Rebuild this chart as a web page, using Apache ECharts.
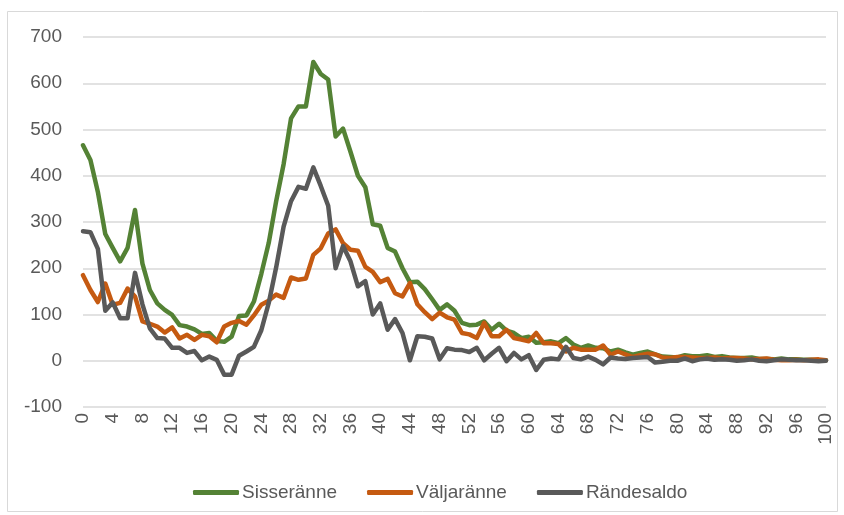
<!DOCTYPE html>
<html>
<head>
<meta charset="utf-8">
<script src="https://cdn.jsdelivr.net/npm/echarts@6/dist/echarts.min.js"></script>
<style>
html,body{margin:0;padding:0;background:#fff;}
#c{width:844px;height:515px;}
</style>
</head>
<body>
<div id="c"></div>
<script>
const ages = Array.from({length: 101}, (_, i) => String(i));
const seriesNames = ["Sisseränne", "Väljaränne", "Rändesaldo"];
const sisseranne = [466,434,365,274,244,215,244,326,210,153,124,110,99,77,74,68,58,60,43,41,52,97,98,128,188,255,345,425,524,550,550,646,620,608,485,502,452,400,375,295,292,244,236,200,170,171,155,133,110,122,108,82,77,78,85,67,80,65,60,49,52,39,40,42,38,49,35,28,33,28,27,20,24,18,13,17,20,14,9,8,7,12,10,10,12,8,10,7,6,6,7,4,4,3,5,3,3,2,2,1,1];
const valjaranne = [185,153,127,167,121,125,156,139,85,80,74,61,72,48,56,45,56,53,40,74,82,86,78,98,121,130,143,136,180,175,178,229,243,275,284,254,240,238,203,192,170,177,146,139,168,122,105,90,104,94,89,60,57,49,82,53,53,67,49,46,42,60,38,38,36,20,28,24,24,24,33,13,20,14,8,12,15,14,7,6,8,8,7,6,6,7,5,6,6,5,3,4,5,2,1,1,2,1,2,3,1];
const randesaldo = [280,278,242,108,126,92,92,190,122,70,49,48,28,28,17,21,1,9,2,-30,-30,11,20,30,66,125,202,290,345,376,372,418,378,335,200,248,215,161,172,100,124,67,90,60,1,53,52,48,3,27,24,23,19,28,1,15,28,-1,17,3,12,-20,2,5,3,30,6,3,9,2,-8,7,5,4,6,7,8,-4,-2,0,0,5,-1,3,5,2,3,2,0,1,3,0,-1,1,3,2,1,1,0,-1,0];
const yMin = -100, yMax = 700, yStep = 100;
const colors = ["#548235", "#C55A11", "#595959"];

const chart = echarts.init(document.getElementById('c'), null, {renderer: 'canvas'});
const font = "'Liberation Sans', Arial, sans-serif";
const mk = (name, data, color, z) => ({
  name, type: 'line', data, symbol: 'none', smooth: false, z,
  lineStyle: {color, width: 4.5, cap: 'round', join: 'round'},
  itemStyle: {color}
});
chart.setOption({
  animation: false,
  backgroundColor: '#fff',
  graphic: [{type: 'rect', shape: {x: 7.5, y: 11.5, width: 830, height: 500}, style: {fill: 'none', stroke: '#d9d9d9', lineWidth: 1}, silent: true}],
  grid: {left: 83, right: 18, top: 37, bottom: 108, containLabel: false},
  xAxis: {
    type: 'category', data: ages, boundaryGap: false,
    axisLine: {show: false}, axisTick: {show: false},
    axisLabel: {interval: 3, rotate: 90, margin: 6, color: '#595959', fontSize: 19, fontFamily: font},
    splitLine: {show: false}
  },
  yAxis: {
    type: 'value', min: yMin, max: yMax, interval: yStep,
    axisLine: {show: false}, axisTick: {show: false},
    axisLabel: {color: '#595959', fontSize: 19, fontFamily: font, margin: 21},
    splitLine: {show: true, lineStyle: {color: '#d9d9d9', width: 1.5}}
  },
  legend: {
    left: 188, top: 478, itemWidth: 46, itemHeight: 5, itemGap: 30,
    icon: 'roundRect',
    textStyle: {color: '#595959', fontSize: 19, fontFamily: font, padding: [0,0,0,-2]},
    data: seriesNames
  },
  series: [
    mk(seriesNames[0], sisseranne, colors[0], 3),
    mk(seriesNames[1], valjaranne, colors[1], 4),
    mk(seriesNames[2], randesaldo, colors[2], 5)
  ]
});
</script>
</body>
</html>
